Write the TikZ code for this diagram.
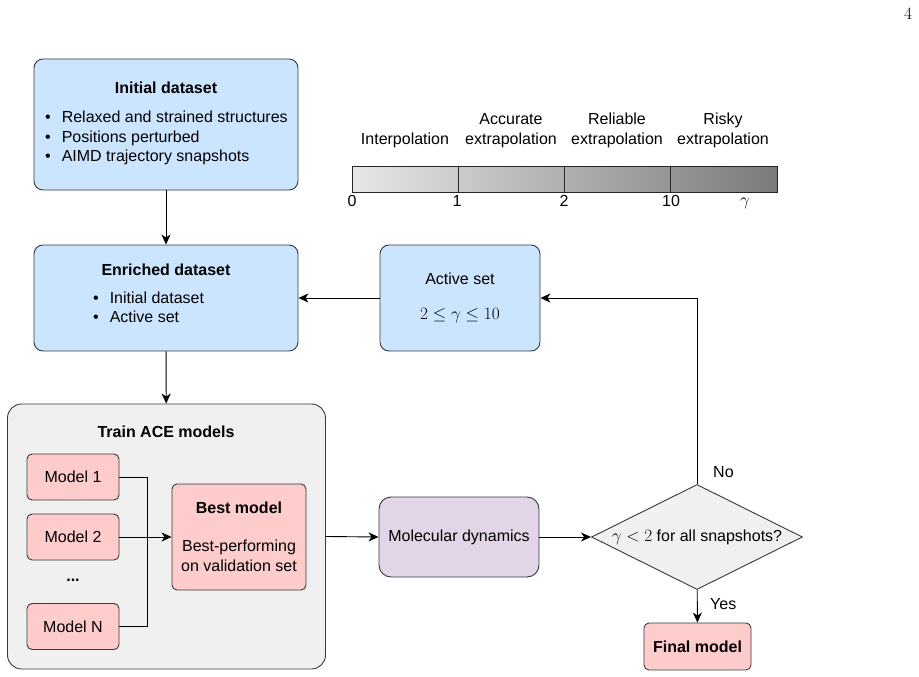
\documentclass[tikz,border=0pt]{standalone}
\usepackage[no-math]{fontspec}
\setmainfont{Liberation Sans}
\usetikzlibrary{arrows.meta,positioning,shapes.geometric}
\definecolor{boxblue}{RGB}{204,229,255}
\definecolor{boxred}{RGB}{255,204,204}
\definecolor{boxlilac}{RGB}{225,213,231}
\definecolor{boxgrey}{RGB}{240,240,240}
\definecolor{edgegrey}{RGB}{54,57,61}
\newcommand{\dfont}{\fontsize{16}{19.5}\selectfont}
\newcommand{\blist}[1]{\begin{tabular}{@{}l@{\hspace{11pt}}l@{}}#1\end{tabular}}

\begin{document}
\begin{tikzpicture}[x=1pt,y=-1pt,font=\dfont,box/.style={draw=edgegrey,line width=0.9pt,rounded corners=9pt,inner sep=0pt},bluebox/.style={box,fill=boxblue},redbox/.style={box,fill=boxred,rounded corners=5pt},greybox/.style={box,fill=boxgrey,rounded corners=14pt},lilacbox/.style={box,fill=boxlilac,rounded corners=12pt},decision/.style={draw=edgegrey,line width=0.9pt,fill=boxgrey,diamond,inner sep=0pt},lbl/.style={inner sep=0pt},arr/.style={-{Stealth[length=10pt,width=9pt,inset=3pt]},line width=0.9pt},line/.style={line width=0.9pt}]
\useasboundingbox (0,0) rectangle (919,677);
\node[lbl] (page) at (908,14) {\fontsize{18}{18}\selectfont$4$};
% datasets
\node[bluebox,minimum width=264pt,minimum height=131pt] (init) at (166,124.5) {};
\node[lbl,font=\dfont\bfseries] (inittitle) at (166,88) {Initial dataset};
\node[lbl,anchor=west] (initlist) at (45,138.5) {\blist{\textbullet&Relaxed and strained structures\\\textbullet&Positions perturbed\\\textbullet&AIMD trajectory snapshots}};
\node[bluebox,minimum width=264pt,minimum height=106pt] (enriched) at (166,298) {};
\node[lbl,font=\dfont\bfseries] (enrichedtitle) at (166,270) {Enriched dataset};
\node[lbl,anchor=west] (enrichedlist) at (93,309) {\blist{\textbullet&Initial dataset\\\textbullet&Active set}};
\node[bluebox,minimum width=160pt,minimum height=106pt] (active) at (460,298) {};
\node[lbl] (activetitle) at (460,279) {Active set};
\node[lbl] (activerange) at (460,316) {\fontsize{18.5}{18.5}\selectfont$2\leq\gamma\leq10$};
% gamma scale
\shade[left color=black!10,right color=black!52] (352,166) rectangle (777,192);
\node[draw=black!85,line width=0.9pt,minimum width=425pt,minimum height=26pt,inner sep=0pt] (gbar) at (564.5,179) {};
\foreach \x in {458,564,670} \draw[line,black!85] (\x,166) -- (\x,192);
\node[lbl,anchor=south] (interp) at (405,148) {Interpolation};
\node[lbl,anchor=south,align=center] (accurate) at (511,148) {Accurate\\extrapolation};
\node[lbl,anchor=south,align=center] (reliable) at (617,148) {Reliable\\extrapolation};
\node[lbl,anchor=south,align=center] (risky) at (723,148) {Risky\\extrapolation};
\node[lbl] (g0) at (352,201) {0};
\node[lbl] (g1) at (457,201) {1};
\node[lbl] (g2) at (564,201) {2};
\node[lbl] (g10) at (671,201) {10};
\node[lbl] (gg) at (745,203) {\fontsize{17}{17}\selectfont$\gamma$};
% training
\node[greybox,minimum width=318pt,minimum height=265pt] (train) at (166.5,536.5) {};
\node[lbl,font=\dfont\bfseries] (traintitle) at (166,432) {Train ACE models};
\node[redbox,minimum width=92pt,minimum height=46pt] (m1) at (73,477) {Model 1};
\node[redbox,minimum width=92pt,minimum height=46pt] (m2) at (73,537) {Model 2};
\node[lbl] (mdots) at (73,580) {\textbf{...}};
\node[redbox,minimum width=92pt,minimum height=46pt] (mN) at (73,626.5) {Model N};
\node[redbox,minimum width=134pt,minimum height=106pt] (best) at (239,537) {};
\node[lbl,font=\dfont\bfseries] (besttitle) at (239,508) {Best model};
\node[lbl,align=center] (besttext) at (239,556) {Best-performing\\on validation set};
\coordinate (join) at (147,537);
\draw[line] (m1.east) -| (join);
\draw[line] (mN.east) -| (join);
\draw[arr] (m2.east) -- (best.west);
% simulation and check
\node[lilacbox,minimum width=160pt,minimum height=80pt] (md) at (459,537) {Molecular dynamics};
\node[decision,minimum width=211pt,minimum height=105pt] (check) at (697,537) {};
\node[lbl] (checktext) at (check.center) {$\gamma<2$ for all snapshots?};
\node[redbox,minimum width=107pt,minimum height=47pt,font=\dfont\bfseries] (final) at (697.5,646.5) {Final model};
\draw[arr] (init) -- (enriched);
\draw[arr] (enriched) -- (train);
\draw[arr] (active) -- (enriched);
\draw[arr] (train.east) -- (md.west);
\draw[arr] (md) -- (check);
\draw[arr] (check.north) |- (active.east);
\draw[arr] (check) -- (final);
\node[lbl,above right=6pt and 16pt of check.north] (no) {No};
\node[lbl,right=13pt of check.south,yshift=-14pt] (yes) {Yes};
\end{tikzpicture}
\end{document}
